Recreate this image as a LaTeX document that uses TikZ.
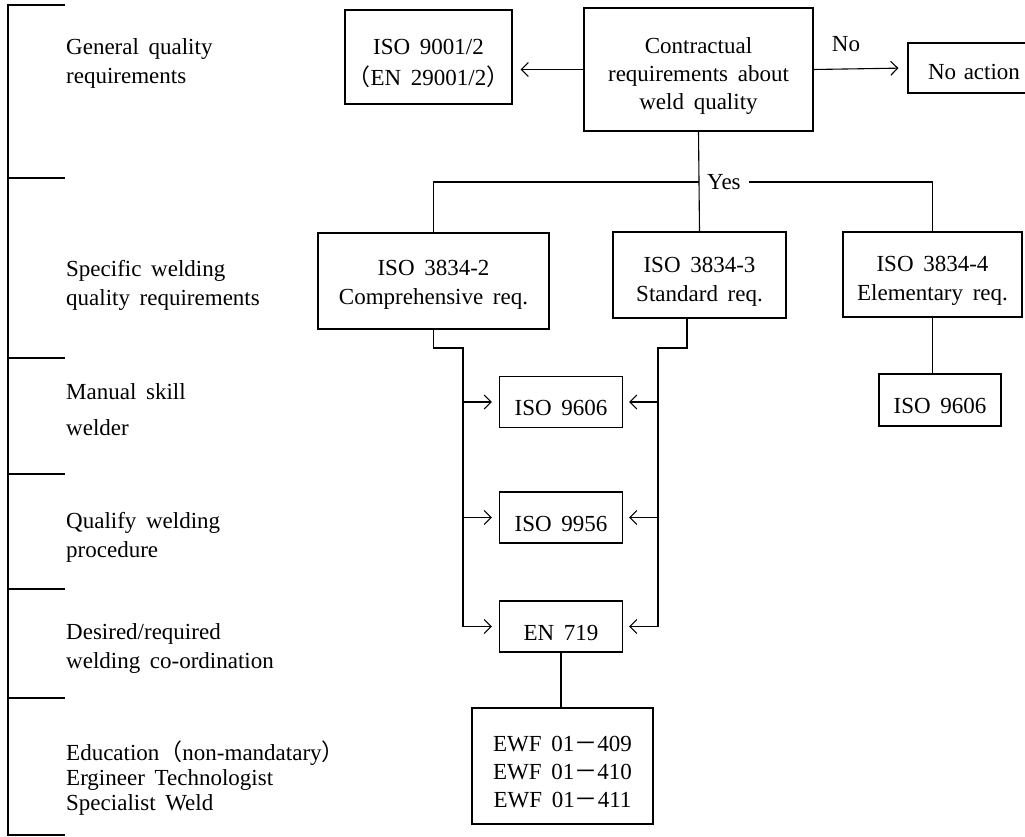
\documentclass[tikz,border=0pt]{standalone}
\usepackage{fontspec}
\setmainfont{Liberation Serif}
\newfontfamily\cjk{Noto Sans CJK SC}
\usetikzlibrary{arrows.meta,calc}
\newcommand{\myfont}[1]{\fontsize{23}{#1}\selectfont\spaceskip=0.42em plus 0.1em}
\newcommand{\tup}[1][28pt]{\rule{0pt}{#1}}
\begin{document}
\begin{tikzpicture}[x=1pt,y=-1pt,
  every node/.style={font=\myfont{29}},
  box/.style={draw, line width=1.1pt, inner sep=0pt, align=center},
  lab/.style={anchor=west, align=left, inner sep=0pt},
  ln/.style={line width=1.1pt},
  arr/.style={line width=1.1pt, -{Straight Barb[length=7pt,width=14pt,line width=1.1pt]}}
]
\useasboundingbox (0,0) rectangle (1025,836);
% left bracket
\draw[ln] (65,5) -- (8,5) -- (8,835) -- (65,835);
\foreach \yy in {178,358,474,589,698} \draw[ln] (8,\yy) -- (65,\yy);
% left labels
\node[lab] (l1) at (66,63) {General quality\\requirements};
\node[lab] (l2) at (66,285.5) {Specific welding\\quality requirements};
\node[lab,font=\myfont{36}] (l3) at (66,410) {Manual skill\\welder};
\node[lab] (l4) at (66,537) {Qualify welding\\procedure};
\node[lab] (l5) at (66,648.5) {Desired/required\\welding co-ordination};
\node[lab,font=\myfont{25}] (l6) at (66,778.5) {Education{\cjk（}non-mandatary{\cjk）}\\Ergineer Technologist\\Specialist Weld};
% boxes
\node[box,minimum width=167pt,minimum height=94pt,font=\myfont{31}] (iso9001) at (428.5,57) {\tup ISO 9001/2\\{\cjk（}EN 29001/2{\cjk）}};
\node[box,minimum width=229pt,minimum height=123pt,font=\myfont{28}] (contract) at (698.5,69.5) {\tup Contractual\\requirements about\\weld quality};
\node[box,minimum width=140pt,minimum height=50pt,text width=130pt,align=left] (noaction) at (978,68) {\tup[23pt]\hspace{15pt}No action};
\node[box,minimum width=231pt,minimum height=96pt] (c2) at (433.5,281) {\tup[23pt]ISO 3834-2\\Comprehensive req.};
\node[box,minimum width=173pt,minimum height=86pt] (c3) at (699.5,275) {\tup ISO 3834-3\\Standard req.};
\node[box,minimum width=179pt,minimum height=85pt] (c4) at (932.5,274.5) {\tup ISO 3834-4\\Elementary req.};
\node[box,minimum width=123pt,minimum height=51pt] (i9606) at (561,402) {\tup ISO 9606};
\node[box,minimum width=123pt,minimum height=51pt] (i9956) at (561,517.5) {\tup ISO 9956};
\node[box,minimum width=123pt,minimum height=51pt] (en719) at (561,626.5) {\tup EN 719};
\node[box,minimum width=122pt,minimum height=52pt] (i9606r) at (940,400) {\tup ISO 9606};
\node[box,minimum width=181pt,minimum height=116pt,font=\myfont{28}] (ewf) at (562.5,766) {\tup EWF 01{\cjk －}409\\EWF 01{\cjk －}410\\EWF 01{\cjk －}411};
% top connectors
\draw[arr,shorten >=8pt] (contract.west) -- (iso9001.east |- contract.west);
\draw[arr,shorten >=9pt] (contract.east) -- (noaction.west);
\node[inner sep=0pt] (no) at (846,44) {No};
\node[anchor=west,inner xsep=8pt,inner ysep=0pt] (yes) at (699,182) {Yes};
\draw[ln] (contract.south) -- (c3.north);
\draw[ln] (c2.north) |- (yes.west);
\draw[ln] (yes.east) -| (c4.north);
% left branch
\coordinate (Lk) at (463,348);
\draw[arr,shorten >=7pt] (c2.south) |- (Lk) |- (en719.west);
\draw[arr,shorten >=7pt] (Lk |- i9606.west) -- (i9606.west);
\draw[arr,shorten >=7pt] (Lk |- i9956.west) -- (i9956.west);
% right branch
\coordinate (Rk) at (658,348);
\coordinate (c3b) at (687,318);
\draw[arr,shorten >=6pt] (c3b) |- (Rk) |- (en719.east);
\draw[arr,shorten >=6pt] (Rk |- i9606.east) -- (i9606.east);
\draw[arr,shorten >=6pt] (Rk |- i9956.east) -- (i9956.east);
% others
\draw[ln] (en719.south) -- (en719.south |- ewf.north);
\draw[ln] (c4.south) -- (c4.south |- i9606r.north);
\end{tikzpicture}
\end{document}
